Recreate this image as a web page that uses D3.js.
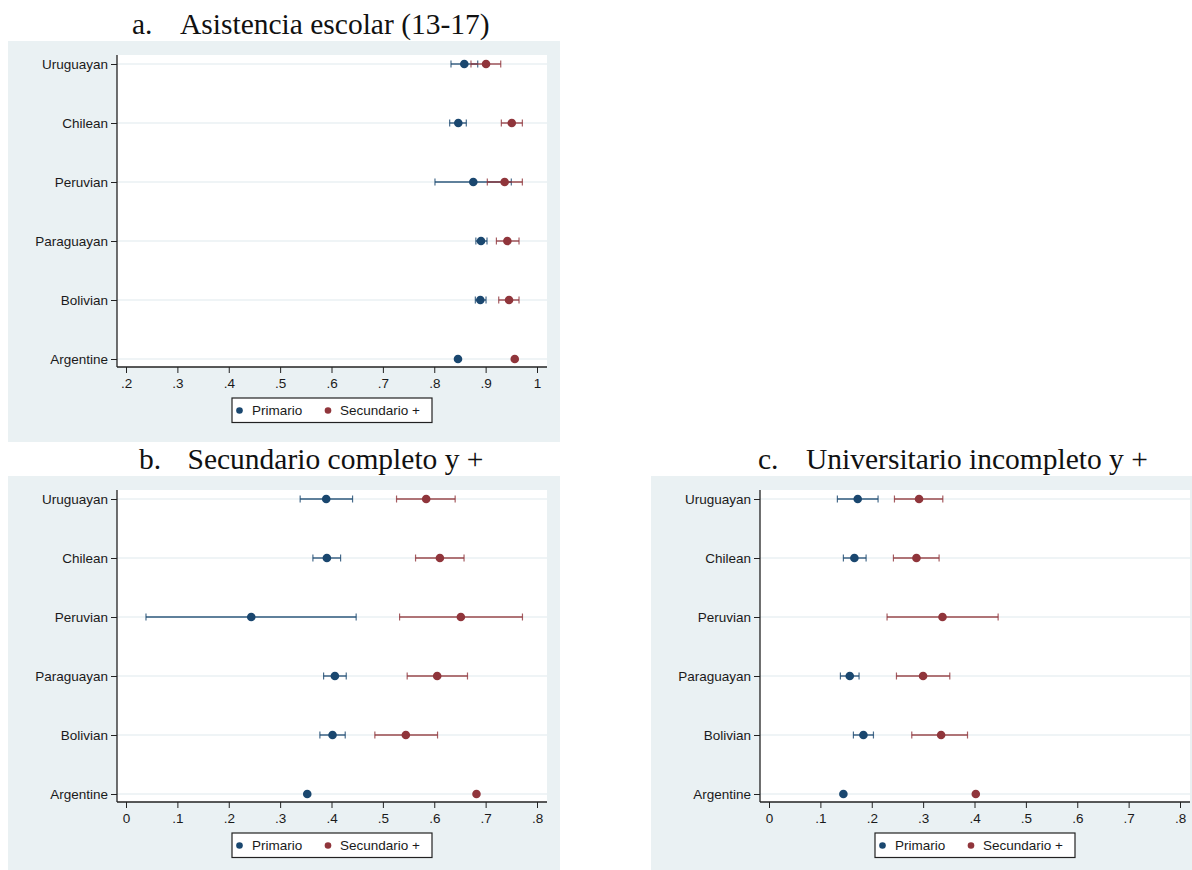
<!DOCTYPE html>
<html>
<head>
<meta charset="utf-8">
<script src="https://cdn.jsdelivr.net/npm/d3@7/dist/d3.min.js"></script>
<style>
  html, body { margin: 0; padding: 0; background: #ffffff; }
  svg { display: block; }
</style>
</head>
<body>
<svg id="chart" width="1192" height="870"></svg>
<script>
// ---------------- DATA ----------------
const categories = ["Uruguayan", "Chilean", "Peruvian", "Paraguayan", "Bolivian", "Argentine"];
const seriesNames = ["Primario", "Secundario +"];

// Panel a: Asistencia escolar (13-17)
const asistTicks = [0.2, 0.3, 0.4, 0.5, 0.6, 0.7, 0.8, 0.9, 1.0];
const asistTickLabels = [".2", ".3", ".4", ".5", ".6", ".7", ".8", ".9", "1"];
const asistPrimario   = [0.8585, 0.8468, 0.8760, 0.8910, 0.8897, 0.8462];
const asistPrimarioLo = [0.8326, 0.8300, 0.8014, 0.8810, 0.8800, null];
const asistPrimarioHi = [0.8846, 0.8624, 0.9500, 0.9027, 0.9008, null];
const asistSecund     = [0.9008, 0.9509, 0.9370, 0.9423, 0.9456, 0.9567];
const asistSecundLo   = [0.8715, 0.9306, 0.9033, 0.9210, 0.9255, null];
const asistSecundHi   = [0.9294, 0.9715, 0.9715, 0.9650, 0.9650, null];

// Panel b: Secundario completo y +
const secTicks = [0, 0.1, 0.2, 0.3, 0.4, 0.5, 0.6, 0.7, 0.8];
const secTickLabels = ["0", ".1", ".2", ".3", ".4", ".5", ".6", ".7", ".8"];
const secPrimario   = [0.3897, 0.3910, 0.2438, 0.4066, 0.4020, 0.3528];
const secPrimarioLo = [0.3390, 0.3638, 0.0389, 0.3846, 0.3774, null];
const secPrimarioHi = [0.4410, 0.4177, 0.4480, 0.4287, 0.4267, null];
const secSecund     = [0.5843, 0.6110, 0.6518, 0.6057, 0.5447, 0.6822];
const secSecundLo   = [0.5266, 0.5636, 0.5325, 0.5473, 0.4844, null];
const secSecundHi   = [0.6407, 0.6580, 0.7717, 0.6647, 0.6064, null];

// Panel c: Universitario incompleto y +
const uniTicks = [0, 0.1, 0.2, 0.3, 0.4, 0.5, 0.6, 0.7, 0.8];
const uniTickLabels = ["0", ".1", ".2", ".3", ".4", ".5", ".6", ".7", ".8"];
const uniPrimario   = [0.1727, 0.1662, null, 0.1572, 0.1838, 0.1448];
const uniPrimarioLo = [0.1331, 0.1448, null, 0.1390, 0.1643, null];
const uniPrimarioHi = [0.2123, 0.1890, null, 0.1753, 0.2033, null];
const uniSecund     = [0.2921, 0.2870, 0.3377, 0.2999, 0.3350, 0.4025];
const uniSecundLo   = [0.2442, 0.2422, 0.2298, 0.2481, 0.2779, null];
const uniSecundHi   = [0.3383, 0.3311, 0.4460, 0.3519, 0.3864, null];

// ---------------- STYLE ----------------
const colors = ["#1a476f", "#90353b"];
const bgColor = "#eaf1f3";
const gridColor = "#eaf1f3";
const sansFont = "'Liberation Sans', Arial, Helvetica, sans-serif";
const serifFont = "'Liberation Serif', 'Times New Roman', Times, serif";

const svg = d3.select("#chart");

const panels = [
  { letter: "a.", title: "Asistencia escolar (13-17)", left: 8, top: 41,
    letterX: 132, titleX: 180, titleY: 34,
    domain: [0.2, 1.0], ticks: asistTicks, tickLabels: asistTickLabels,
    series: [
      { pt: asistPrimario, lo: asistPrimarioLo, hi: asistPrimarioHi },
      { pt: asistSecund, lo: asistSecundLo, hi: asistSecundHi } ] },
  { letter: "b.", title: "Secundario completo y +", left: 8, top: 476,
    letterX: 139, titleX: 187.5, titleY: 469,
    domain: [0, 0.8], ticks: secTicks, tickLabels: secTickLabels,
    series: [
      { pt: secPrimario, lo: secPrimarioLo, hi: secPrimarioHi },
      { pt: secSecund, lo: secSecundLo, hi: secSecundHi } ] },
  { letter: "c.", title: "Universitario incompleto y +", left: 651, top: 476,
    letterX: 758, titleX: 806, titleY: 469,
    domain: [0, 0.8], ticks: uniTicks, tickLabels: uniTickLabels,
    series: [
      { pt: uniPrimario, lo: uniPrimarioLo, hi: uniPrimarioHi },
      { pt: uniSecund, lo: uniSecundLo, hi: uniSecundHi } ] }
];

const PW = 552, PH = 401;
const plotL = 109, plotR = 539, plotT = 14, plotB = 326;

panels.forEach(p => {
  // titles
  svg.append("text").attr("x", p.letterX).attr("y", p.titleY)
    .attr("font-family", serifFont).attr("font-size", 29.5).attr("fill", "#111")
    .text(p.letter);
  svg.append("text").attr("x", p.titleX).attr("y", p.titleY)
    .attr("font-family", serifFont).attr("font-size", 29.5).attr("fill", "#111")
    .text(p.title);

  const g = svg.append("g").attr("transform", `translate(${p.left},${p.top})`);
  g.append("rect").attr("x", 0).attr("y", 0).attr("width", PW).attr("height", PH)
    .attr("fill", bgColor);
  g.append("rect").attr("x", plotL).attr("y", plotT)
    .attr("width", plotR - plotL).attr("height", plotB - plotT).attr("fill", "#ffffff");

  const x = d3.scaleLinear().domain(p.domain).range([118, 529]);
  const y = d3.scalePoint().domain(categories).range([23, 318]);

  // gridlines
  g.append("g").selectAll("line").data(categories).join("line")
    .attr("x1", plotL).attr("x2", plotR)
    .attr("y1", d => y(d)).attr("y2", d => y(d))
    .attr("stroke", gridColor).attr("stroke-width", 1.6);

  // y axis
  const yAxis = d3.axisLeft(y).tickSize(6).tickPadding(3);
  const ya = g.append("g").attr("transform", `translate(${plotL},0)`).call(yAxis);
  ya.select(".domain").attr("d", `M0,${plotT}V${plotB}`).attr("stroke", "#222").attr("stroke-width", 1.3);
  ya.selectAll(".tick line").attr("stroke", "#222").attr("stroke-width", 1);
  ya.selectAll(".tick text").attr("font-family", sansFont).attr("font-size", 13.5)
    .attr("fill", "#1a1a1a");

  // x axis
  const xAxis = d3.axisBottom(x).tickValues(p.ticks)
    .tickFormat((d, i) => p.tickLabels[i]).tickSize(6).tickPadding(5);
  const xa = g.append("g").attr("transform", `translate(0,${plotB})`).call(xAxis);
  xa.select(".domain").attr("d", `M${plotL},0H${plotR}`).attr("stroke", "#222").attr("stroke-width", 1.3);
  xa.selectAll(".tick line").attr("stroke", "#222").attr("stroke-width", 1);
  xa.selectAll(".tick text").attr("font-family", sansFont).attr("font-size", 13.5)
    .attr("fill", "#1a1a1a");

  // series
  p.series.forEach((s, si) => {
    const rows = categories.map((c, i) => ({ c, pt: s.pt[i], lo: s.lo[i], hi: s.hi[i] }));
    const ci = rows.filter(r => r.lo != null && r.hi != null);
    const sg = g.append("g");
    const capH = 3.5;
    sg.selectAll("line.ci").data(ci).join("line").attr("class", "ci")
      .attr("x1", d => x(d.lo)).attr("x2", d => x(d.hi))
      .attr("y1", d => y(d.c)).attr("y2", d => y(d.c))
      .attr("stroke", colors[si]).attr("stroke-width", 1.4).attr("stroke-opacity", 0.9);
    sg.selectAll("line.capl").data(ci).join("line").attr("class", "capl")
      .attr("x1", d => x(d.lo)).attr("x2", d => x(d.lo))
      .attr("y1", d => y(d.c) - capH).attr("y2", d => y(d.c) + capH)
      .attr("stroke", colors[si]).attr("stroke-width", 1.2).attr("stroke-opacity", 0.8);
    sg.selectAll("line.caph").data(ci).join("line").attr("class", "caph")
      .attr("x1", d => x(d.hi)).attr("x2", d => x(d.hi))
      .attr("y1", d => y(d.c) - capH).attr("y2", d => y(d.c) + capH)
      .attr("stroke", colors[si]).attr("stroke-width", 1.2).attr("stroke-opacity", 0.8);
    sg.selectAll("circle").data(rows.filter(r => r.pt != null)).join("circle")
      .attr("cx", d => x(d.pt)).attr("cy", d => y(d.c)).attr("r", 4.3)
      .attr("fill", colors[si]);
  });

  // legend
  const lg = g.append("g").attr("transform", "translate(224,357)");
  lg.append("rect").attr("x", 0).attr("y", 0).attr("width", 200).attr("height", 24.5)
    .attr("fill", "#ffffff").attr("stroke", "#222").attr("stroke-width", 1.2);
  const legX = [{ dot: 7.5, txt: 20 }, { dot: 96, txt: 108 }];
  seriesNames.forEach((name, i) => {
    lg.append("circle").attr("cx", legX[i].dot).attr("cy", 12.5).attr("r", 3.3)
      .attr("fill", colors[i]);
    lg.append("text").attr("x", legX[i].txt).attr("y", 17.3)
      .attr("font-family", sansFont).attr("font-size", 13.5).attr("fill", "#1a1a1a")
      .text(name);
  });
});
</script>
</body>
</html>
